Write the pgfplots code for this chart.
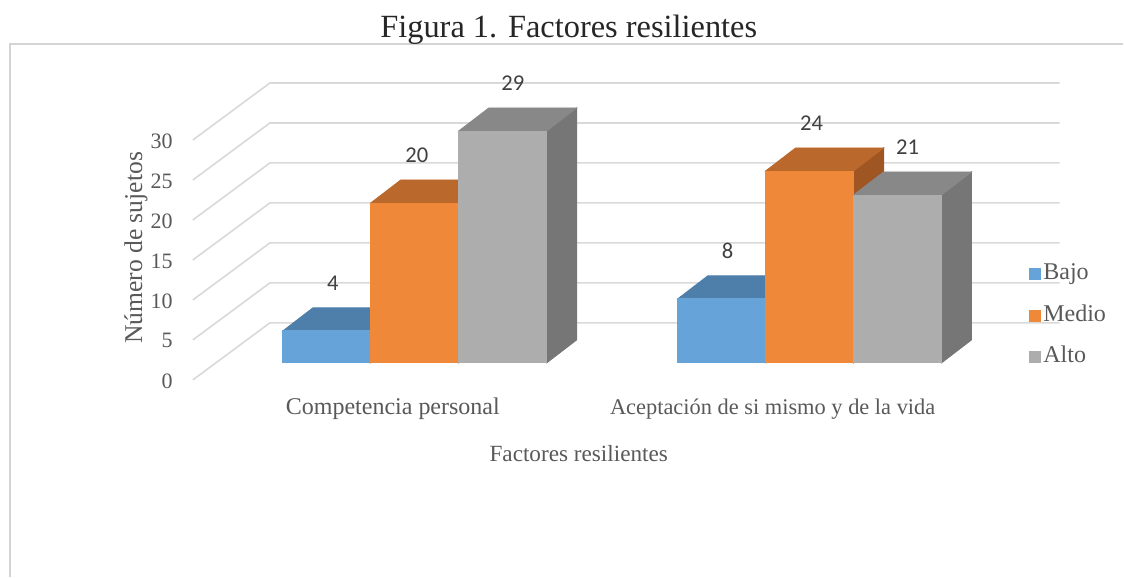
\documentclass[border=0pt]{standalone}
\usepackage{pgfplots}
\pgfplotsset{compat=1.18}
\usepackage{pgfplotstable}
\usepackage{fontspec}
\setmainfont{Liberation Serif}
\newfontfamily\carlito{Carlito}

\definecolor{bajoF}{HTML}{66A3D9}
\definecolor{bajoT}{HTML}{4E7FAA}
\definecolor{bajoS}{HTML}{41709A}
\definecolor{medioF}{HTML}{F0883A}
\definecolor{medioT}{HTML}{BA682C}
\definecolor{medioS}{HTML}{9F5623}
\definecolor{altoF}{HTML}{ADADAD}
\definecolor{altoT}{HTML}{888888}
\definecolor{altoS}{HTML}{767676}
\definecolor{gridc}{HTML}{D9D9D9}
\definecolor{framec}{HTML}{D4D4D4}
\definecolor{txtgray}{HTML}{595959}
\definecolor{lblgray}{HTML}{404040}
\definecolor{titlec}{HTML}{262626}

\pgfdeclareplotmark{emptymark}{}

% x: horizontal position (px); columns: number of subjects
\pgfplotstableread{
x bajo medio alto
415 4 20 29
810 8 24 21
}\datatable

\pgfplotsset{
  sqlegend/.style={legend image code/.code={\fill[##1,draw=none] (0pt,-3pt) rectangle (6pt,3pt);}},
  lbl/.style={nodes near coords={\pgfmathprintnumber[assume math mode=true]{\pgfplotspointmeta}},
    every node near coord/.append style={font=\carlito\fontsize{11.3}{13}\selectfont, text=lblgray, anchor=center, yshift=24pt, xshift=#1}},
}

% 3-D bars: side, top and front faces (#1 column, #2 bar shift, #3 top, #4 side, #5 front colour)
\newcommand{\cuboid}[5]{%
\addplot[forget plot, only marks, mark=emptymark,
  scatter, point meta=\thisrow{#1},
  visualization depends on={\thisrow{#1} \as \hval},
  scatter/@pre marker code/.code={%
    \pgfmathsetlengthmacro{\hh}{4pt*\hval}%
    \fill[#4] ({#2+22pt},0pt) -- ({#2+37pt},11.5pt) -- ({#2+37pt},{11.5pt-\hh}) -- ({#2+22pt},-\hh) -- cycle;
    \fill[#3] ({#2-22pt},0pt) -- ({#2+22pt},0pt) -- ({#2+37pt},11.5pt) -- ({#2-7pt},11.5pt) -- cycle;
    \fill[#5] ({#2-22pt},-\hh) rectangle ({#2+22pt},0pt);
  },
  scatter/@post marker code/.code={}]
  table[x=x,y=#1]{\datatable};
}

\begin{document}
\begin{tikzpicture}
\begin{axis}[
  scale only axis, width=562pt, height=289pt,
  xmin=0, xmax=1124, ymin=-26.875, ymax=45.375,
  axis line style={draw=none}, ticks=none, clip=false,
  axis background/.style={fill=white},
  legend style={at={(axis cs:1029,5.9)}, anchor=west, draw=none, fill=none,
    font=\fontsize{12}{14}\selectfont, text=txtgray, row sep=8pt,
    inner sep=0pt, cells={anchor=west},
    nodes={inner sep=1.2pt, text height=8pt, text depth=2.5pt}},
  legend cell align=left,
]
% chart frame
\addplot[forget plot, draw=framec, line width=1pt] coordinates {(10,-26.8) (10,39.875) (1123.5,39.875)};
% grid: side wall and back wall
\addplot[forget plot, draw=gridc, line width=0.8pt] coordinates {(193,-2.125) (270,5) (1060,5)};
\addplot[forget plot, draw=gridc, line width=0.8pt] coordinates {(193,2.875) (270,10) (1060,10)};
\addplot[forget plot, draw=gridc, line width=0.8pt] coordinates {(193,7.875) (270,15) (1060,15)};
\addplot[forget plot, draw=gridc, line width=0.8pt] coordinates {(193,12.875) (270,20) (1060,20)};
\addplot[forget plot, draw=gridc, line width=0.8pt] coordinates {(193,17.875) (270,25) (1060,25)};
\addplot[forget plot, draw=gridc, line width=0.8pt] coordinates {(193,22.875) (270,30) (1060,30)};
\addplot[forget plot, draw=gridc, line width=0.8pt] coordinates {(193,27.875) (270,35) (1060,35)};

% bar fronts (legend and value labels)
\addplot[ybar, bar width=44pt, bar shift=-44pt, fill=bajoF, draw=none, sqlegend, lbl=-41pt] table[x=x,y=bajo]{\datatable};
\addplot[ybar, bar width=44pt, bar shift=0pt, fill=medioF, draw=none, sqlegend, lbl=1pt] table[x=x,y=medio]{\datatable};
\addplot[ybar, bar width=44pt, bar shift=44pt, fill=altoF, draw=none, sqlegend, lbl=49pt] table[x=x,y=alto]{\datatable};
\legend{Bajo,Medio,Alto}
% 3-D bodies
\cuboid{bajo}{-44pt}{bajoT}{bajoS}{bajoF}
\cuboid{medio}{0pt}{medioT}{medioS}{medioF}
\cuboid{alto}{44pt}{altoT}{altoS}{altoF}

% y tick labels
\node[anchor=east, inner sep=0pt, font=\fontsize{11}{13}\selectfont, text=txtgray] at (axis cs:173,-2.25) {0};
\node[anchor=east, inner sep=0pt, font=\fontsize{11}{13}\selectfont, text=txtgray] at (axis cs:173,2.75) {5};
\node[anchor=east, inner sep=0pt, font=\fontsize{11}{13}\selectfont, text=txtgray] at (axis cs:173,7.75) {10};
\node[anchor=east, inner sep=0pt, font=\fontsize{11}{13}\selectfont, text=txtgray] at (axis cs:173,12.75) {15};
\node[anchor=east, inner sep=0pt, font=\fontsize{11}{13}\selectfont, text=txtgray] at (axis cs:173,17.75) {20};
\node[anchor=east, inner sep=0pt, font=\fontsize{11}{13}\selectfont, text=txtgray] at (axis cs:173,22.75) {25};
\node[anchor=east, inner sep=0pt, font=\fontsize{11}{13}\selectfont, text=txtgray] at (axis cs:173,27.75) {30};

% category labels, axis titles, chart title
\node[anchor=base, inner sep=0pt, font=\fontsize{12}{14}\selectfont, text=txtgray] at (axis cs:393,-6.5) {Competencia personal};
\node[anchor=base, inner sep=0pt, font=\fontsize{11.2}{14}\selectfont, text=txtgray] at (axis cs:773,-6.5) {Aceptación de si mismo y de la vida};
\node[anchor=base, inner sep=0pt, font=\fontsize{11.6}{14}\selectfont, text=txtgray] at (axis cs:579,-12.375) {Factores resilientes};
\node[rotate=90, inner sep=0pt, font=\fontsize{12.8}{14}\selectfont, text=txtgray] at (axis cs:136,14.375) {Número de sujetos};
\node[anchor=base, inner sep=0pt, font=\fontsize{16.2}{18}\selectfont, text=titlec] at (axis cs:569,40.625) {Figura 1. Factores resilientes};
\end{axis}
\end{tikzpicture}
\end{document}
